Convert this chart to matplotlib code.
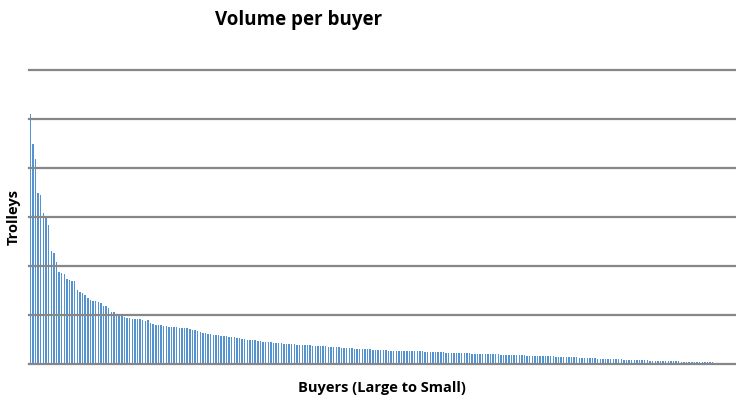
import matplotlib.pyplot as plt

# Trolley volume per buyer, sorted from largest to smallest
volumes = [
    511, 450, 419, 350, 346, 308, 298, 284, 231, 227, 209, 188, 186, 183, 174, 171, 169, 169, 151, 147, 145, 141,
    135, 130, 129, 129, 127, 125, 119, 118, 114, 106, 106, 99, 99, 98, 95, 94, 94, 92, 92, 92, 91, 90, 88,
    90, 84, 82, 80, 79, 79, 78, 77, 76, 76, 76, 75, 74, 74, 73, 73, 72, 70, 69, 68, 66, 64, 63,
    62, 61, 60, 59, 59, 58, 58, 57, 56, 55,
    55, 54, 53, 52, 51, 50,
    50, 49, 48, 47, 46, 45,
    45, 44, 44, 43, 43, 42, 42,
    41, 41, 40, 40, 40, 39, 39, 39,
    38, 38, 38, 37, 37, 37, 36, 36,
    36, 35, 35, 34, 34, 34, 33,
    33, 32, 32, 32, 31, 31, 31, 31,
    30, 30, 30, 29, 29, 29, 28, 28, 28, 27, 27,
    27, 27, 27, 27, 27, 26, 26, 26, 26, 26, 26, 26,
    25, 25, 25, 25, 24, 24, 24, 24, 23, 23, 23,
    23, 22, 22, 22, 22, 22, 22, 21, 21, 21, 21, 21,
    20, 20, 20, 20, 20, 20, 19, 19, 19, 19, 19,
    18, 18, 18, 18, 18, 17, 17, 17,
    17, 17, 17, 16, 16, 16, 16, 16, 15, 15, 15, 15, 15, 14, 14, 14,
    14, 13, 13, 13, 12, 12, 12, 12, 11, 11, 11,
    11, 11, 10, 10, 10, 10, 10, 9, 9, 9, 9, 9, 8, 8, 8, 8,
    8, 7, 7, 7, 7, 7, 6, 6, 6, 6, 6, 6, 6, 5, 5,
    5, 5, 5, 5, 4, 4, 4, 4, 4, 4, 4, 3, 3, 3, 3, 3,
    2, 2, 2,
]
grid_levels = [100, 200, 300, 400, 500, 600]

plt.rcParams["font.family"] = ["Open Sans", "DejaVu Sans"]

fig = plt.figure(figsize=(7.36, 4.03), dpi=100)
ax = fig.add_axes([0.0394, 0.0968, 0.9592, 0.7292])

positions = range(len(volumes))
ax.bar(positions, volumes, width=0.55, color="#5592D0", linewidth=0, zorder=2)

ax.set_xlim(-0.5, len(volumes) - 0.5)
ax.set_ylim(0, 600)

# gridlines sit on top of the bars
for level in grid_levels:
    ax.axhline(level, color="#878787", linewidth=1.6, zorder=4, clip_on=False)

for side in ["top", "right", "left"]:
    ax.spines[side].set_visible(False)
ax.spines["bottom"].set_color("#878787")
ax.spines["bottom"].set_linewidth(1.6)
ax.spines["bottom"].set_zorder(4)
ax.set_xticks([])
ax.set_yticks([])

ax.set_ylabel("Trolleys", fontsize=10.5, fontweight="bold")
ax.yaxis.set_label_coords(-0.021, 0.5)
ax.set_xlabel("Buyers (Large to Small)", fontsize=10.5, fontweight="bold")
ax.xaxis.set_label_coords(0.5, -0.082)
ax.xaxis.label.set_va("center")
ax.yaxis.label.set_va("center")

fig.text(0.406, 0.950, "Volume per buyer", fontsize=13.5, fontweight="bold",
         ha="center", va="center")

fig.savefig("out.png", dpi=100)
plt.close(fig)
